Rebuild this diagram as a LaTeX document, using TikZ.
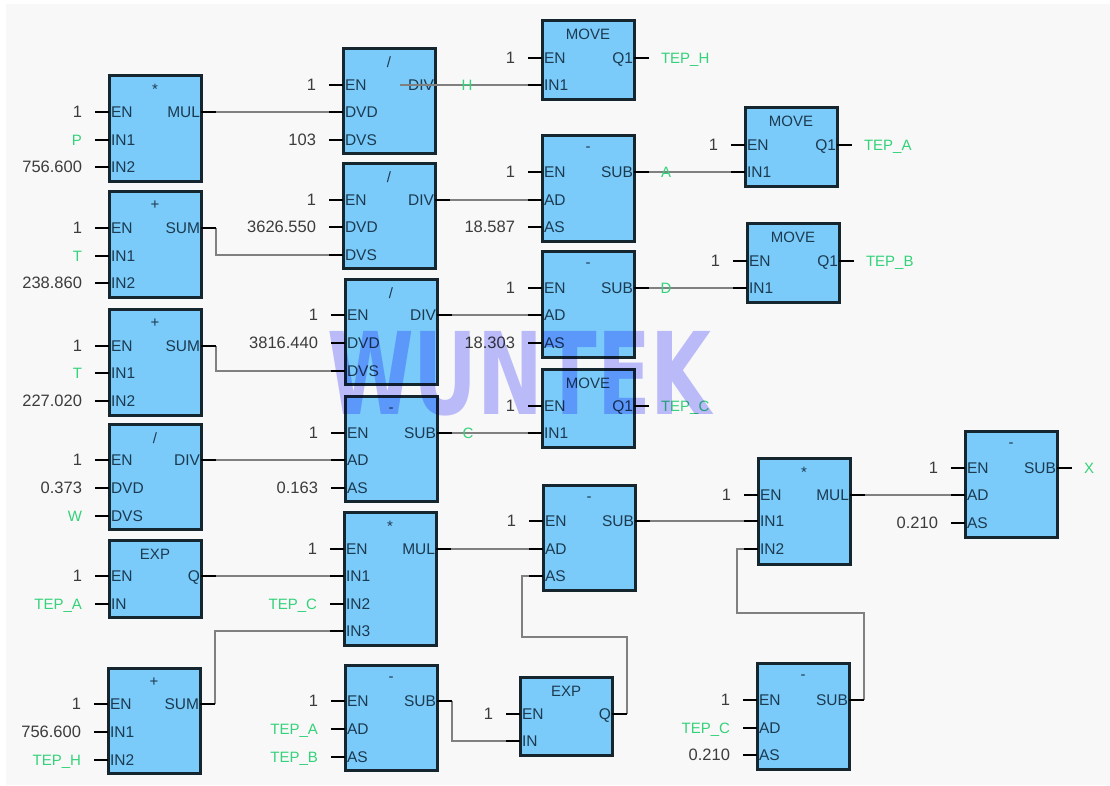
\documentclass[tikz,border=0pt]{standalone}
\usepackage{fontspec}
\setmainfont{Liberation Sans}
\newfontfamily\logofont{DejaVu Sans}
\usepackage{graphicx}
\usepackage{tikz}
\usetikzlibrary{positioning}
\definecolor{sheetbg}{HTML}{F8F8F8}
\definecolor{blockfill}{HTML}{7ACBFA}
\definecolor{blockline}{HTML}{16262F}
\definecolor{pinink}{HTML}{1C3A50}
\definecolor{valink}{HTML}{3C3C3C}
\definecolor{varink}{HTML}{34D27A}
\definecolor{wireink}{HTML}{808080}
\definecolor{markink}{HTML}{C0C0FF}
\tikzset{
% Define the function block looks
fblock/.style={rectangle, draw=blockline, line width=3pt, fill=blockfill,
  anchor=north west, minimum width=92pt},
blocktitle/.style={text=pinink, font=\fontsize{15}{16}\selectfont},
pinname/.style={text=pinink, text height=11pt, text depth=0pt, font=\fontsize{15.5}{16}\selectfont},
valname/.style={text=valink, text height=11pt, text depth=0pt, font=\fontsize{16.5}{17}\selectfont},
varname/.style={text=varink, text height=11pt, text depth=0pt, font=\fontsize{15}{16}\selectfont},
stub/.style={draw=black, line width=2.8pt},
wire/.style={draw=wireink, line width=2.6pt}
}
% block body: name, x, y, height, title
\newcommand{\fbody}[5]{
  \node[fblock, minimum height=#4pt] (#1) at (#2,#3) {};
  \node[blocktitle] (#1-title) at ([yshift=-14pt]#1.north) {#5};
}
% input pin: block, key, y, label
\newcommand{\inpin}[4]{
  \coordinate (#1-#2-root) at (#1.west |- 0,#3);
  \coordinate (#1-#2-tip) at ([xshift=-14pt]#1-#2-root);
  \node[pinname, anchor=west, xshift=2pt] (#1-#2) at (#1-#2-root) {#4};
}
% input pin with a constant or a variable: block, key, y, label, text
\newcommand{\inval}[5]{
  \inpin{#1}{#2}{#3}{#4}
  \node[valname, left=13pt of #1-#2-tip] (#1-#2-val) {#5};
}
\newcommand{\invar}[5]{
  \inpin{#1}{#2}{#3}{#4}
  \node[varname, left=13pt of #1-#2-tip] (#1-#2-val) {#5};
}
% output pin: block, key, y, label
\newcommand{\outpin}[4]{
  \coordinate (#1-#2-root) at (#1.east |- 0,#3);
  \coordinate (#1-#2-tip) at ([xshift=15pt]#1-#2-root);
  \node[pinname, anchor=east, xshift=-1pt] (#1-#2) at (#1-#2-root) {#4};
}
\newcommand{\outvar}[5]{
  \outpin{#1}{#2}{#3}{#4}
  \node[varname, right=12pt of #1-#2-tip] (#1-#2-val) {#5};
}
\begin{document}
\begin{tikzpicture}[x=1pt, y=-1pt, inner sep=0, outer sep=0]
  \useasboundingbox (0,0) rectangle (1110,785);
  \node[rectangle, fill=sheetbg, anchor=north west, minimum width=1104pt, minimum height=781pt] (sheet) at (6,4) {};

  % first column
  \fbody{a1}{109}{75}{106}{*}
  \inval{a1}{en}{112}{EN}{1}
  \invar{a1}{in1}{140}{IN1}{P}
  \inval{a1}{in2}{167}{IN2}{756.600}
  \outpin{a1}{mul}{112}{MUL}

  \fbody{a2}{109}{191}{106}{+}
  \inval{a2}{en}{228}{EN}{1}
  \invar{a2}{in1}{256}{IN1}{T}
  \inval{a2}{in2}{283}{IN2}{238.860}
  \outpin{a2}{sum}{228}{SUM}

  \fbody{a3}{109}{309}{106}{+}
  \inval{a3}{en}{346}{EN}{1}
  \invar{a3}{in1}{373}{IN1}{T}
  \inval{a3}{in2}{401}{IN2}{227.020}
  \outpin{a3}{sum}{346}{SUM}

  \fbody{a4}{109}{424}{105}{/}
  \inval{a4}{en}{460}{EN}{1}
  \inval{a4}{dvd}{488}{DVD}{0.373}
  \invar{a4}{dvs}{516}{DVS}{W}
  \outpin{a4}{div}{460}{DIV}

  \fbody{a5}{109}{540}{77}{EXP}
  \inval{a5}{en}{576}{EN}{1}
  \invar{a5}{in}{604}{IN}{TEP\_A}
  \outpin{a5}{q}{576}{Q}

  \fbody{a6}{108}{668}{105}{+}
  \inval{a6}{en}{704}{EN}{1}
  \inval{a6}{in1}{732}{IN1}{756.600}
  \invar{a6}{in2}{760}{IN2}{TEP\_H}
  \outpin{a6}{sum}{704}{SUM}

  % second column
  \fbody{b1}{343}{48}{105}{/}
  \inval{b1}{en}{85}{EN}{1}
  \inpin{b1}{dvd}{112}{DVD}
  \inval{b1}{dvs}{140}{DVS}{103}
  \node[pinname, anchor=east, xshift=-1pt] (b1-div) at (b1.east |- 0,85) {DIV};
  \coordinate (b1-div-tip) at (400,85);

  \fbody{b2}{343}{163}{105}{/}
  \inval{b2}{en}{200}{EN}{1}
  \inval{b2}{dvd}{227}{DVD}{3626.550}
  \inpin{b2}{dvs}{255}{DVS}
  \outpin{b2}{div}{200}{DIV}

  \fbody{b3}{345}{279}{105}{/}
  \inval{b3}{en}{315}{EN}{1}
  \inval{b3}{dvd}{343}{DVD}{3816.440}
  \inpin{b3}{dvs}{371}{DVS}
  \outpin{b3}{div}{315}{DIV}

  \fbody{b4}{345}{396}{105}{-}
  \inval{b4}{en}{433}{EN}{1}
  \inpin{b4}{ad}{460}{AD}
  \inval{b4}{as}{488}{AS}{0.163}
  \outpin{b4}{sub}{433}{SUB}

  \fbody{b5}{344}{512}{133}{*}
  \inval{b5}{en}{549}{EN}{1}
  \inpin{b5}{in1}{576}{IN1}
  \invar{b5}{in2}{604}{IN2}{TEP\_C}
  \inpin{b5}{in3}{631}{IN3}
  \outpin{b5}{mul}{549}{MUL}

  \fbody{b6}{345}{665}{105}{-}
  \inval{b6}{en}{701}{EN}{1}
  \invar{b6}{ad}{729}{AD}{TEP\_A}
  \invar{b6}{as}{757}{AS}{TEP\_B}
  \outpin{b6}{sub}{701}{SUB}

  % third column
  \fbody{c1}{542}{20}{79}{MOVE}
  \inval{c1}{en}{58}{EN}{1}
  \inpin{c1}{in1}{85}{IN1}
  \outvar{c1}{q1}{58}{Q1}{TEP\_H}

  \fbody{c2}{542}{135}{106}{-}
  \inval{c2}{en}{172}{EN}{1}
  \inpin{c2}{ad}{200}{AD}
  \inval{c2}{as}{227}{AS}{18.587}
  \outpin{c2}{sub}{172}{SUB}

  \fbody{c3}{542}{251}{106}{-}
  \inval{c3}{en}{288}{EN}{1}
  \inpin{c3}{ad}{315}{AD}
  \inval{c3}{as}{343}{AS}{18.303}
  \outpin{c3}{sub}{288}{SUB}

  \fbody{c4}{542}{369}{78}{MOVE}
  \inval{c4}{en}{406}{EN}{1}
  \inpin{c4}{in1}{433}{IN1}
  \outvar{c4}{q1}{406}{Q1}{TEP\_C}

  \fbody{c5}{543}{485}{105}{-}
  \inval{c5}{en}{521}{EN}{1}
  \inpin{c5}{ad}{549}{AD}
  \inpin{c5}{as}{576}{AS}
  \outpin{c5}{sub}{521}{SUB}

  \fbody{c6}{520}{677}{78}{EXP}
  \inval{c6}{en}{714}{EN}{1}
  \inpin{c6}{in}{741}{IN}
  \outpin{c6}{q}{714}{Q}

  % last columns
  \fbody{d1}{745}{107}{79}{MOVE}
  \inval{d1}{en}{145}{EN}{1}
  \inpin{d1}{in1}{172}{IN1}
  \outvar{d1}{q1}{145}{Q1}{TEP\_A}

  \fbody{d2}{747}{223}{79}{MOVE}
  \inval{d2}{en}{261}{EN}{1}
  \inpin{d2}{in1}{288}{IN1}
  \outvar{d2}{q1}{261}{Q1}{TEP\_B}

  \fbody{d3}{758}{458}{106}{*}
  \inval{d3}{en}{495}{EN}{1}
  \inpin{d3}{in1}{521}{IN1}
  \inpin{d3}{in2}{549}{IN2}
  \outpin{d3}{mul}{495}{MUL}

  \fbody{d4}{757}{663}{106}{-}
  \inval{d4}{en}{700}{EN}{1}
  \invar{d4}{ad}{728}{AD}{TEP\_C}
  \inval{d4}{as}{755}{AS}{0.210}
  \outpin{d4}{sub}{700}{SUB}

  \fbody{e1}{965}{431}{106}{-}
  \inval{e1}{en}{468}{EN}{1}
  \inpin{e1}{ad}{495}{AD}
  \inval{e1}{as}{523}{AS}{0.210}
  \outvar{e1}{sub}{468}{SUB}{X}

  % wires
  \draw[wire] (a1-mul-tip) -- (b1-dvd-tip);
  \draw[wire] (a2-sum-tip) |- (b2-dvs-tip);
  \draw[wire] (a3-sum-tip) |- (b3-dvs-tip);
  \draw[wire] (a4-div-tip) -- (b4-ad-tip);
  \draw[wire] (a5-q-tip) -- (b5-in1-tip);
  \draw[wire] (a6-sum-tip) |- (b5-in3-tip);
  \draw[wire] (b1-div-tip) -- (c1-in1-tip);
  \draw[wire] (b2-div-tip) -- (c2-ad-tip);
  \draw[wire] (b3-div-tip) -- (c3-ad-tip);
  \draw[wire] (b4-sub-tip) -- (c4-in1-tip);
  \draw[wire] (b5-mul-tip) -- (c5-ad-tip);
  \draw[wire] (b6-sub-tip) |- (c6-in-tip);
  \draw[wire] (c2-sub-tip) -- (d1-in1-tip);
  \draw[wire] (c3-sub-tip) -- (d2-in1-tip);
  \draw[wire] (c5-sub-tip) -- (d3-in1-tip);
  \draw[wire] (d3-mul-tip) -- (e1-ad-tip);

  \coordinate (cross1) at (522,637);
  \draw[wire] (c6-q-tip) |- (cross1) |- (c5-as-tip);
  \coordinate (cross2) at (737,613);
  \draw[wire] (d4-sub-tip) |- (cross2) |- (d3-in2-tip);

  % pin stubs on top of the wires
  \foreach \pin in {a1-en,a1-in1,a1-in2,a1-mul,a2-en,a2-in1,a2-in2,a2-sum,a3-en,a3-in1,a3-in2,a3-sum,
      a4-en,a4-dvd,a4-dvs,a4-div,a5-en,a5-in,a5-q,a6-en,a6-in1,a6-in2,a6-sum,
      b1-en,b1-dvd,b1-dvs,b2-en,b2-dvd,b2-dvs,b2-div,b3-en,b3-dvd,b3-dvs,b3-div,
      b4-en,b4-ad,b4-as,b4-sub,b5-en,b5-in1,b5-in2,b5-in3,b5-mul,b6-en,b6-ad,b6-as,b6-sub,
      c1-en,c1-in1,c1-q1,c2-en,c2-ad,c2-as,c2-sub,c3-en,c3-ad,c3-as,c3-sub,
      c4-en,c4-in1,c4-q1,c5-en,c5-ad,c5-as,c5-sub,c6-en,c6-in,c6-q,
      d1-en,d1-in1,d1-q1,d2-en,d2-in1,d2-q1,d3-en,d3-in1,d3-in2,d3-mul,
      d4-en,d4-ad,d4-as,d4-sub,e1-en,e1-ad,e1-as,e1-sub}
    \draw[stub] (\pin-tip) -- (\pin-root);

  % wire names
  \node[varname] (tag-h) at (467,85) {H};
  \node[varname] (tag-a) at (666,172) {A};
  \node[varname] (tag-d) at (666,288) {D};
  \node[varname] (tag-c) at (468,433) {C};

  % logo over everything
  \begin{scope}[blend mode=multiply]
    \node[text=markink, font=\fontsize{114}{114}\logofont\bfseries\selectfont] (logo) at (519.5,374) {\scalebox{0.69}[1]{WUNTEK}};
  \end{scope}
\end{tikzpicture}
\end{document}
